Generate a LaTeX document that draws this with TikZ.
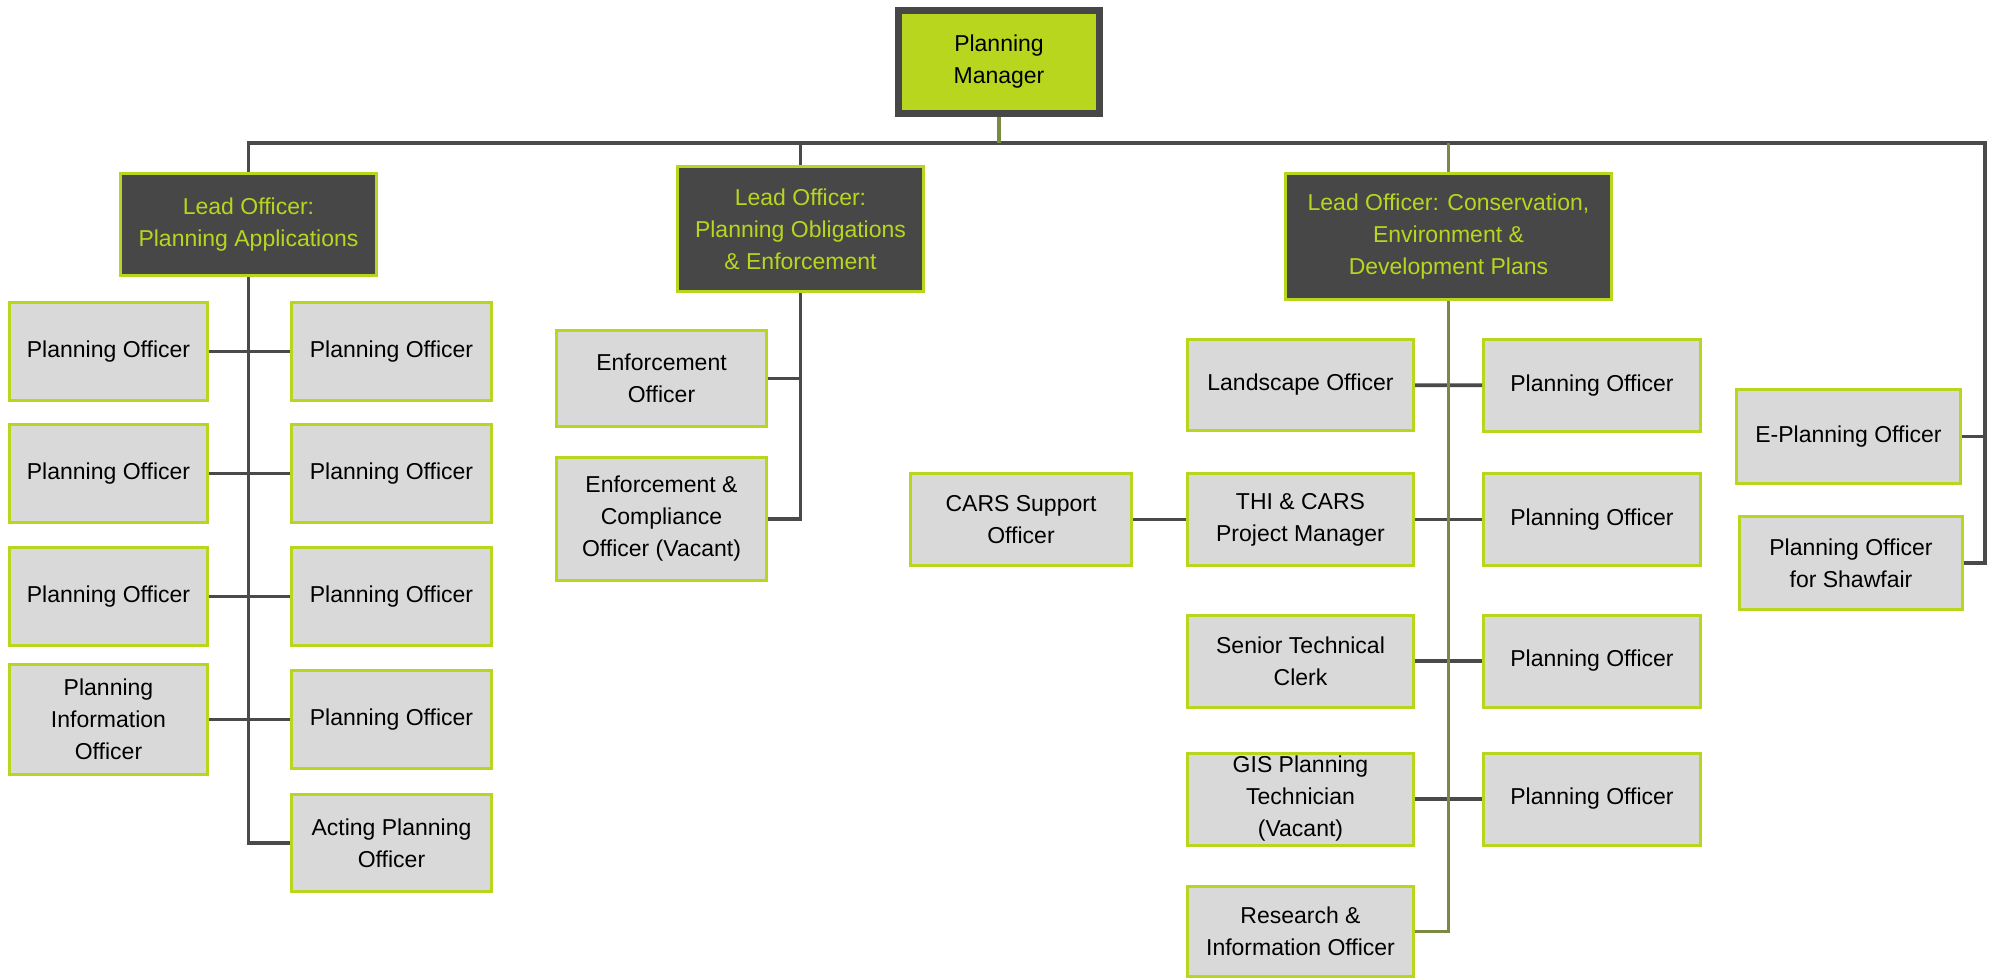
\documentclass[tikz,border=0pt]{standalone}
\usepackage{fontspec}
\setmainfont{Liberation Sans}
\usepackage{tikz}
\definecolor{orglime}{HTML}{B9D61F}
\definecolor{orgdark}{HTML}{474747}
\definecolor{orgbox}{HTML}{D9D9D9}
\definecolor{orgline}{HTML}{4A4A4A}
\definecolor{orgolive}{HTML}{7B8A43}

\begin{document}
\begin{tikzpicture}[x=0.5pt,y=-0.5pt,
  every node/.style={font=\fontsize{11.5}{16}\selectfont,align=center,inner sep=0pt},
  mgr/.style={draw=orgdark,line width=3.5pt,fill=orglime,text=black},
  lead/.style={draw=orglime,line width=1.5pt,fill=orgdark,text=orglime},
  staff/.style={draw=orglime,line width=1.5pt,fill=orgbox,text=black},
  link/.style={draw=orgline,line width=1.9pt},
  stem/.style={draw=orgolive,line width=1.9pt}]
  \useasboundingbox (0,0) rectangle (1993,980);
  % top level
  \node[mgr,minimum width=100.5pt,minimum height=51.5pt] (pm) at (999,62) {Planning\\Manager};
  \node[lead,minimum width=128pt,minimum height=51pt] (lo1) at (248.5,224.5) {Lead Officer:\\Planning Applications};
  \node[lead,minimum width=123pt,minimum height=62.5pt] (lo2) at (800.5,229) {Lead Officer:\\Planning Obligations\\\& Enforcement};
  \node[lead,minimum width=163pt,minimum height=63pt] (lo3) at (1448.5,236.5) {Lead Officer: Conservation,\\Environment \&\\Development Plans};
  \coordinate (busR) at (1985,143);
  % planning applications
  \foreach \n/\y in {1/351.5,2/473.5,3/596.5}{
    \node[staff,minimum width=99pt,minimum height=49pt] (pl\n) at (108.5,\y) {Planning Officer};
    \node[staff,minimum width=100pt,minimum height=49pt] (pr\n) at (391.5,\y) {Planning Officer};
  }
  \node[staff,minimum width=99pt,minimum height=55pt] (pinfo) at (108.5,719.5) {Planning\\Information\\Officer};
  \node[staff,minimum width=100pt,minimum height=49pt] (pr4) at (391.5,719.5) {Planning Officer};
  \node[staff,minimum width=100pt,minimum height=48.5pt] (acting) at (391.5,843) {Acting Planning\\Officer};
  % obligations and enforcement
  \node[staff,minimum width=105pt,minimum height=48pt] (enf) at (661.5,378.5) {Enforcement\\Officer};
  \node[staff,minimum width=105pt,minimum height=61.5pt] (eco) at (661.5,519) {Enforcement \&\\Compliance\\Officer (Vacant)};
  % conservation, environment and development plans
  \node[staff,minimum width=113pt,minimum height=45.5pt] (land) at (1300.5,385) {Landscape Officer};
  \node[staff,minimum width=113pt,minimum height=46pt] (thi) at (1300.5,519.5) {THI \& CARS\\Project Manager};
  \node[staff,minimum width=113pt,minimum height=46pt] (stc) at (1300.5,661) {Senior Technical\\Clerk};
  \node[staff,minimum width=113pt,minimum height=46pt] (gis) at (1300.5,799) {GIS Planning\\Technician\\(Vacant)};
  \node[staff,minimum width=113pt,minimum height=45pt] (research) at (1300.5,931.5) {Research \&\\Information Officer};
  \foreach \n/\y in {1/385.5,2/519.5,3/661,4/799}{
    \node[staff,minimum width=108.5pt,minimum height=46pt] (pc\n) at (1592,\y) {Planning Officer};
  }
  \node[staff,minimum width=110.5pt,minimum height=46pt] (cars) at (1021,519.5) {CARS Support\\Officer};
  % direct reports
  \node[staff,minimum width=112pt,minimum height=47pt] (eplan) at (1848.5,436.5) {E-Planning Officer};
  \node[staff,minimum width=111.5pt,minimum height=46.5pt] (shaw) at (1851,563) {Planning Officer\\for Shawfair};

  % connectors
  \draw[link] (lo1.north) -- (lo1.north |- busR) -- (busR) |- (shaw.east);
  \draw[link] (eplan.east) -- (eplan.east -| busR);
  \draw[link] (lo2.north) -- (lo2.north |- busR);
  \draw[stem] (pm.south) -- (pm.south |- busR);
  \draw[stem] (lo3.north) -- (lo3.north |- busR);
  \draw[link] (lo1.south) |- (acting.west);
  \foreach \n in {1,2,3}{\draw[link] (pl\n) -- (pr\n);}
  \draw[link] (pinfo) -- (pr4);
  \draw[link] (lo2.south) |- (eco.east);
  \draw[link] (enf.east) -- (enf.east -| lo2.south);
  \draw[link] (cars) -- (thi);
  \draw[link] (land) -- (pc1);
  \draw[link] (thi) -- (pc2);
  \draw[link] (stc) -- (pc3);
  \draw[link] (gis) -- (pc4);
  \draw[stem] (lo3.south) |- (research.east);
\end{tikzpicture}
\end{document}
